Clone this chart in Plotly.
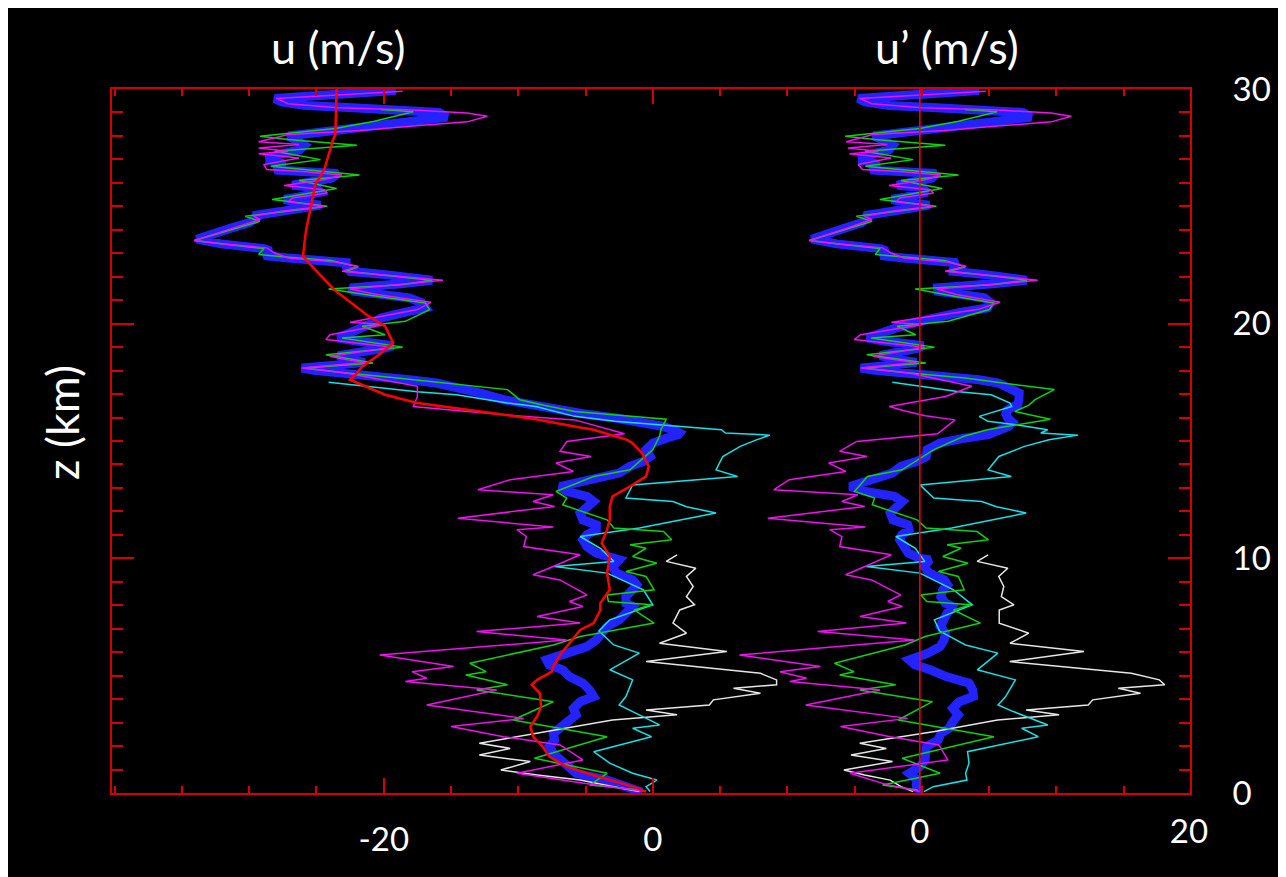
import numpy as np
import plotly.graph_objects as go

# ---------------- data ----------------
# mean (background) wind profile, red line in the u panel
z_mean = [30.0, 28.06, 27.78, 26.6, 25.9, 24.8, 23.9, 22.9, 22.73, 21.45, 20.31, 19.89, 19.18,
          18.61, 18.18, 17.83, 17.61, 16.97, 16.62, 16.4, 16.16, 15.93, 15.62, 15.48, 15.05,
          14.91, 14.48, 13.92, 13.49, 13.06, 12.64, 12.21, 11.64, 11.22, 10.65, 10.08, 9.37,
          8.66, 8.09, 7.8, 7.24, 6.95, 6.38, 5.96, 5.39, 5.17, 4.82, 4.61, 4.25, 3.68, 3.26,
          2.83, 2.4, 1.98, 1.55, 1.12, 0.84, 0.55, 0.27, 0.06]
u_mean = [-23.5, -23.6, -23.8, -24.4, -25.1, -25.5, -25.8, -26.0, -25.8, -23.7, -21.1, -19.9, -19.3,
          -20.5, -21.6, -22.1, -22.5, -19.9, -17.5, -14.6, -11.6, -8.7, -5.8, -4.4, -1.9,
          -1.5, -0.8, -0.3, -0.5, -1.7, -3.0, -3.2, -3.2, -3.4, -3.8, -3.2, -3.4,
          -3.2, -3.9, -3.9, -4.4, -5.4, -6.2, -6.8, -7.4, -7.5, -8.6, -9.0, -8.4, -8.3, -8.6,
          -9.1, -8.9, -8.2, -7.7, -6.4, -4.9, -3.2, -1.5, -0.5]

# main sounding (thick blue)
z_blue = [29.94, 29.8, 29.7, 29.6, 29.45, 29.3, 29.2, 29.1, 29.0, 28.8, 28.65, 28.45, 28.2, 28.0,
          27.85, 27.6, 27.4, 27.2, 27.0, 26.8, 26.55, 26.47, 26.4, 26.2, 26.07, 25.9, 25.8, 25.6,
          25.4, 25.3, 25.15, 25.05, 24.9, 24.76, 24.6, 24.5, 24.3, 24.08, 23.8, 23.6, 23.4, 23.34,
          23.2, 23.1, 22.9, 22.8, 22.7, 22.6, 22.44, 22.23, 22.09, 21.95, 21.85, 21.7, 21.52, 21.38,
          21.24, 21.1, 20.9, 20.67, 20.45, 20.24, 20.03, 19.82, 19.6, 19.39, 19.25, 19.06, 18.96,
          18.82, 18.64, 18.46, 18.35, 18.21, 18.11, 18.01, 17.9, 17.75, 17.61, 17.47, 17.26, 17.04,
          16.76, 16.55, 16.33, 16.16, 15.98, 15.79, 15.62, 15.45, 15.34, 15.27, 15.12, 14.91, 14.63,
          14.34, 14.13, 13.92, 13.63, 13.42, 13.21, 13.06, 12.85, 12.64, 12.42, 12.21, 11.93, 11.64,
          11.43, 11.22, 11.0, 10.79, 10.5, 10.22, 10.0, 9.94, 9.65, 9.37, 9.08, 8.87, 8.66, 8.37,
          8.09, 7.95, 7.66, 7.38, 7.09, 6.81, 6.52, 6.24, 5.96, 5.67, 5.46, 5.25, 4.96, 4.68, 4.39,
          4.11, 3.89, 3.61, 3.33, 3.04, 2.76, 2.54, 2.26, 1.98, 1.69, 1.41, 1.12, 0.84, 0.55, 0.34,
          0.13, 0.03]
u_blue = [-19.1, -23.1, -26.3, -28.1, -27.6, -25.8, -22.3, -18.6, -15.9, -15.3, -17.5, -21.2, -25.0, -27.1,
          -26.6, -25.9, -26.3, -27.9, -28.7, -27.4, -28.1, -26.3, -23.4, -23.9, -25.5, -26.8, -25.0, -24.7,
          -26.3, -27.4, -26.3, -24.7, -26.3, -27.9, -29.7, -29.5, -30.0, -31.3, -32.7, -33.9, -32.1, -30.3,
          -28.9, -28.4, -28.9, -27.1, -25.0, -22.8, -22.8, -22.5, -19.9, -16.9, -16.4, -18.7, -22.5, -22.2,
          -19.9, -18.1, -17.2, -16.9, -18.7, -20.2, -20.8, -21.6, -22.8, -23.4, -21.9, -19.3, -19.9,
          -21.9, -23.4, -22.5, -21.4, -24.0, -26.1, -25.2, -22.8, -20.5, -18.1, -16.1, -14.3, -12.8,
          -11.1, -9.3, -7.2, -5.2, -2.8, -0.5, 0.8, 1.6, 2.0, 1.9, 1.0, 0.0, -0.5,
          -0.2, -0.7, -1.7, -2.5, -3.9, -5.7, -6.9, -6.4, -4.9, -4.4, -4.9, -5.4, -5.2,
          -4.2, -4.2, -4.9, -5.2, -4.9, -4.2, -3.2, -2.5, -3.0, -2.7, -1.5, -1.2, -1.5, -2.0,
          -2.0, -1.5, -2.0, -2.5, -3.4, -3.7, -4.2, -4.9, -6.2, -7.9, -7.7, -6.7, -6.2, -5.2, -4.7,
          -4.4, -5.4, -5.9, -5.7, -6.4, -6.9, -7.4, -7.3, -7.7, -7.4, -6.9, -6.4, -5.7, -3.4, -2.2,
          -1.0, -0.8]

# magenta sounding
z_mag = [29.9, 29.8, 29.6, 29.37, 29.2, 29.1, 28.98, 28.84, 28.6, 28.42, 28.23, 28.06, 27.75, 27.63,
         27.49, 27.35, 27.24, 27.06, 26.78, 26.57, 26.47, 26.33, 26.14, 25.89, 25.71, 25.57, 25.36,
         25.19, 25.0, 24.79, 24.58, 24.44, 24.08, 23.54, 23.4, 23.23, 23.01, 22.8, 22.63, 22.45,
         22.23, 22.02, 21.85, 21.71, 21.48, 21.24, 20.91, 20.6, 20.06, 19.96, 19.53, 19.32, 19.0,
         18.61, 18.47, 18.35, 18.11, 17.9, 17.33, 16.9, 16.47, 16.3, 16.08, 15.9, 15.31, 14.98,
         14.56, 14.34, 14.06, 13.7, 13.35, 12.92, 12.71, 12.42, 12.21, 11.71, 11.33, 11.22, 10.93,
         10.5, 10.15, 9.65, 9.3, 9.08, 8.44, 8.16, 7.95, 7.52, 7.24, 6.88, 6.52, 5.88, 5.6, 5.39,
         5.17, 4.89, 4.75, 4.39, 3.75, 3.18, 2.83, 2.4, 2.05, 1.41, 0.84, 0.4, 0.06]
u_mag = [-18.6, -21.8, -28.0, -27.1, -23.4, -17.8, -13.8, -12.3, -13.8, -17.8, -21.8, -27.1, -29.3, -26.3,
         -29.3, -27.1, -29.3, -26.3, -28.9, -28.7, -25.8, -23.1, -24.4, -27.4, -24.4, -24.2, -26.8,
         -27.1, -24.4, -27.6, -29.7, -29.2, -31.1, -34.1, -31.9, -28.7, -28.1, -27.1, -23.6, -21.9,
         -23.1, -18.7, -15.6, -18.1, -22.5, -20.5, -16.5, -17.5, -22.5, -19.9, -24.0, -24.3, -19.3,
         -24.0, -22.8, -21.4, -26.1, -22.8, -17.5, -17.5, -17.8, -14.6, -10.2, -5.8, -2.1, -6.4,
         -6.9, -4.6, -7.2, -5.9, -10.6, -13.0, -7.4, -8.9, -7.3, -14.5, -7.4, -10.1, -9.4,
         -9.6, -5.4, -7.4, -8.9, -6.9, -4.9, -6.2, -5.2, -8.6, -5.4, -13.1, -6.4, -20.3, -17.0, -14.8,
         -17.9, -16.8, -18.4, -11.6, -16.8, -9.6, -15.0, -11.1, -6.9, -5.2, -10.1, -5.0, -0.5]

# green sounding
z_grn = [29.13, 29.03, 28.63, 28.32, 27.99, 27.85, 27.6, 27.35, 26.99, 26.71, 26.33, 26.1, 25.76, 25.5,
         25.29, 25.0, 24.79, 24.58, 24.36, 24.0, 23.54, 23.4, 23.2, 22.95, 22.83, 22.69, 22.42, 22.23,
         22.02, 21.85, 21.66, 21.48, 21.17, 20.88, 20.6, 20.1, 19.89, 19.53, 19.39, 19.0, 18.68,
         18.32, 18.11, 17.9, 17.68, 17.4, 17.19, 16.76, 16.52, 16.26, 16.12, 15.93, 15.48, 15.2,
         14.63, 13.77, 13.49, 12.85, 12.57, 12.28, 11.64, 11.29, 11.14, 10.79, 10.58, 10.43, 10.08,
         9.79, 9.44, 9.23, 8.66, 8.44, 8.16, 8.02, 7.8, 7.24, 6.67, 6.31, 5.53, 5.17, 5.03, 4.61,
         4.39, 3.89, 3.11, 2.4, 1.48, 0.84, 0.34, 0.13]
u_grn = [-20.2, -17.8, -20.7, -23.6, -29.2, -27.1, -22.0, -28.1, -24.7, -28.4, -21.8, -26.3, -23.5, -26.3,
         -28.3, -24.2, -27.4, -30.3, -29.2, -31.3, -34.1, -31.9, -28.9, -29.3, -27.1, -23.9, -21.9, -22.8,
         -19.0, -16.4, -18.7, -24.1, -20.5, -16.9, -16.6, -18.4, -21.6, -19.9, -23.1, -18.6, -24.3,
         -20.8, -25.9, -22.8, -19.0, -14.6, -10.8, -9.9, -8.1, -5.8, -2.8, 1.0, 0.6, 0.5,
         0.0, -1.7, -4.4, -7.2, -6.4, -6.7, -3.4, -2.9, 0.8, 1.4, -1.7, -0.5, -1.5,
         0.3, -2.0, -0.5, 0.1, -3.4, -3.3, -0.1, -1.4, 0.1, -5.4, -7.4, -13.6, -12.4, -13.9, -10.8,
         -13.1, -7.4, -10.4, -3.4, -8.8, -3.4, -4.7, -1.0]

# cyan sounding
z_cyn = [17.5, 17.26, 17.1, 16.97, 16.83, 16.62, 16.47, 16.05, 15.84, 15.69, 15.48, 15.34, 15.25, 15.05,
         14.77, 14.34, 13.77, 13.49, 13.13, 12.57, 12.42, 12.2, 11.93, 11.29, 10.93, 10.43, 9.87,
         9.65, 9.37, 8.66, 8.02, 7.38, 6.9, 6.31, 5.96, 5.25, 4.82, 4.11, 3.75, 3.47, 2.9, 2.76,
         2.4, 1.76, 1.27, 0.84, 0.55, 0.27, 0.06]
u_cyn = [-24.1, -19.9, -17.5, -14.6, -13.1, -10.8, -8.7, -5.8, -2.8, 0.7, 5.1, 5.4, 8.7, 7.7,
         6.5, 5.2, 4.7, 6.3, -1.5, -2.0, 1.5, 2.5, 4.7, -1.0, -5.4, -3.9, -2.9,
         -7.3, -3.4, -0.7, 0.0, -3.2, -4.0, -2.9, -1.0, -3.2, -1.5, -2.0, -2.5, -1.5, 0.5, -1.5,
         -0.1, -4.4, -3.2, -1.5, 0.3, -0.5, -0.2]

# white sounding
z_wht = [10.15, 9.87, 9.58, 9.23, 8.8, 8.37, 8.02, 7.8, 7.24, 6.81, 6.38, 6.03, 5.6, 5.32, 5.1, 4.82,
         4.61, 4.46, 4.25, 3.97, 3.75, 3.54, 3.33, 3.11, 2.62, 2.12, 1.9, 1.62, 1.34, 0.98, 0.77,
         0.55, 0.27, 0.06]
u_wht = [1.8, 1.0, 3.2, 2.5, 3.0, 2.5, 3.1, 2.0, 1.5, 2.5, 0.5, 5.5, -0.5, 4.5, 8.0, 9.2,
         9.2, 6.0, 8.0, 4.5, 4.2, -0.5, 1.8, -3.0, -7.9, -12.9, -10.6, -12.9, -9.1, -11.3, -8.6,
         -5.4, -2.9, -1.0]

x_ticks_u = [-20, 0]
x_ticks_up = [0, 20]
y_ticks = [0, 10, 20, 30]

# ---------------- perturbations u' = u - mean ----------------
zm_sorted = np.array(z_mean[::-1])
um_sorted = np.array(u_mean[::-1])


def perturb(z, u):
    return list(np.array(u) - np.interp(np.array(z), zm_sorted, um_sorted))


series = [
    ("blue", z_blue, u_blue, "#2323ff", 9),
    ("white", z_wht, u_wht, "#e6e6e6", 1.5),
    ("cyan", z_cyn, u_cyn, "#19e0e6", 1.5),
    ("green", z_grn, u_grn, "#10d010", 1.5),
    ("magenta", z_mag, u_mag, "#f010f0", 1.5),
]

fig = go.Figure()
for name, z, u, col, w in series:
    fig.add_trace(go.Scatter(x=u, y=z, mode="lines", line=dict(color=col, width=w),
                             xaxis="x", yaxis="y", name=name))
fig.add_trace(go.Scatter(x=u_mean, y=z_mean, mode="lines", line=dict(color="#ff0000", width=2.5),
                         xaxis="x", yaxis="y", name="mean"))
for name, z, u, col, w in series:
    fig.add_trace(go.Scatter(x=perturb(z, u), y=z, mode="lines", line=dict(color=col, width=w),
                             xaxis="x2", yaxis="y", name=name + "'"))
fig.add_trace(go.Scatter(x=perturb(z_mean, u_mean), y=z_mean, mode="lines",
                         line=dict(color="#ff0000", width=1.5),
                         xaxis="x2", yaxis="y", name="mean'"))

axis_red = "#d40000"
tickfont = dict(family="Lato", size=33, color="white")

fig.update_layout(
    width=1278, height=869,
    paper_bgcolor="black", plot_bgcolor="black",
    margin=dict(l=104, r=96, t=81, b=84),
    showlegend=False,
    font=dict(family="Lato", color="white"),
    xaxis=dict(range=[-40.2, 39.93], showline=True, linecolor=axis_red, linewidth=2, mirror="ticks",
               ticks="inside", ticklen=15, tickwidth=2, tickcolor=axis_red,
               tickmode="array", tickvals=x_ticks_u, ticktext=[str(v) for v in x_ticks_u],
               tickfont=tickfont, ticklabelstandoff=16, showgrid=False, zeroline=False,
               minor=dict(ticks="inside", ticklen=7, tickwidth=2, tickcolor=axis_red,
                          tick0=0, dtick=5, showgrid=False)),
    xaxis2=dict(overlaying="x", anchor="y", side="bottom", range=[-60.05, 20.08],
                tickmode="array", tickvals=x_ticks_up, ticktext=[str(v) for v in x_ticks_up],
                ticks="", showline=False, showgrid=False, zeroline=False,
                tickfont=tickfont, ticklabelstandoff=16),
    yaxis=dict(range=[0, 30], side="right", showline=True, linecolor=axis_red, linewidth=2,
               mirror="ticks", ticks="inside", ticklen=22, tickwidth=2, tickcolor=axis_red,
               tickmode="array", tickvals=y_ticks, ticktext=[str(v) for v in y_ticks],
               tickfont=tickfont, ticklabelstandoff=34, showgrid=False, zeroline=False,
               minor=dict(ticks="inside", ticklen=11, tickwidth=2, tickcolor=axis_red,
                          tick0=0, dtick=1, showgrid=False)),
    annotations=[
        dict(text="u (m/s)", xref="paper", yref="paper", x=0.2096, y=1.06,
             xanchor="center", yanchor="middle", showarrow=False,
             font=dict(family="Lato", size=45, color="white")),
        dict(text="u\u2019 (m/s)", xref="paper", yref="paper", x=0.7746, y=1.06,
             xanchor="center", yanchor="middle", showarrow=False,
             font=dict(family="Lato", size=45, color="white")),
        dict(text="z (km)", xref="paper", yref="paper", x=-0.0464, y=0.527,
             xanchor="center", yanchor="middle", textangle=-90, showarrow=False,
             font=dict(family="Lato", size=45, color="white")),
    ],
)

fig.write_html("out.html")
